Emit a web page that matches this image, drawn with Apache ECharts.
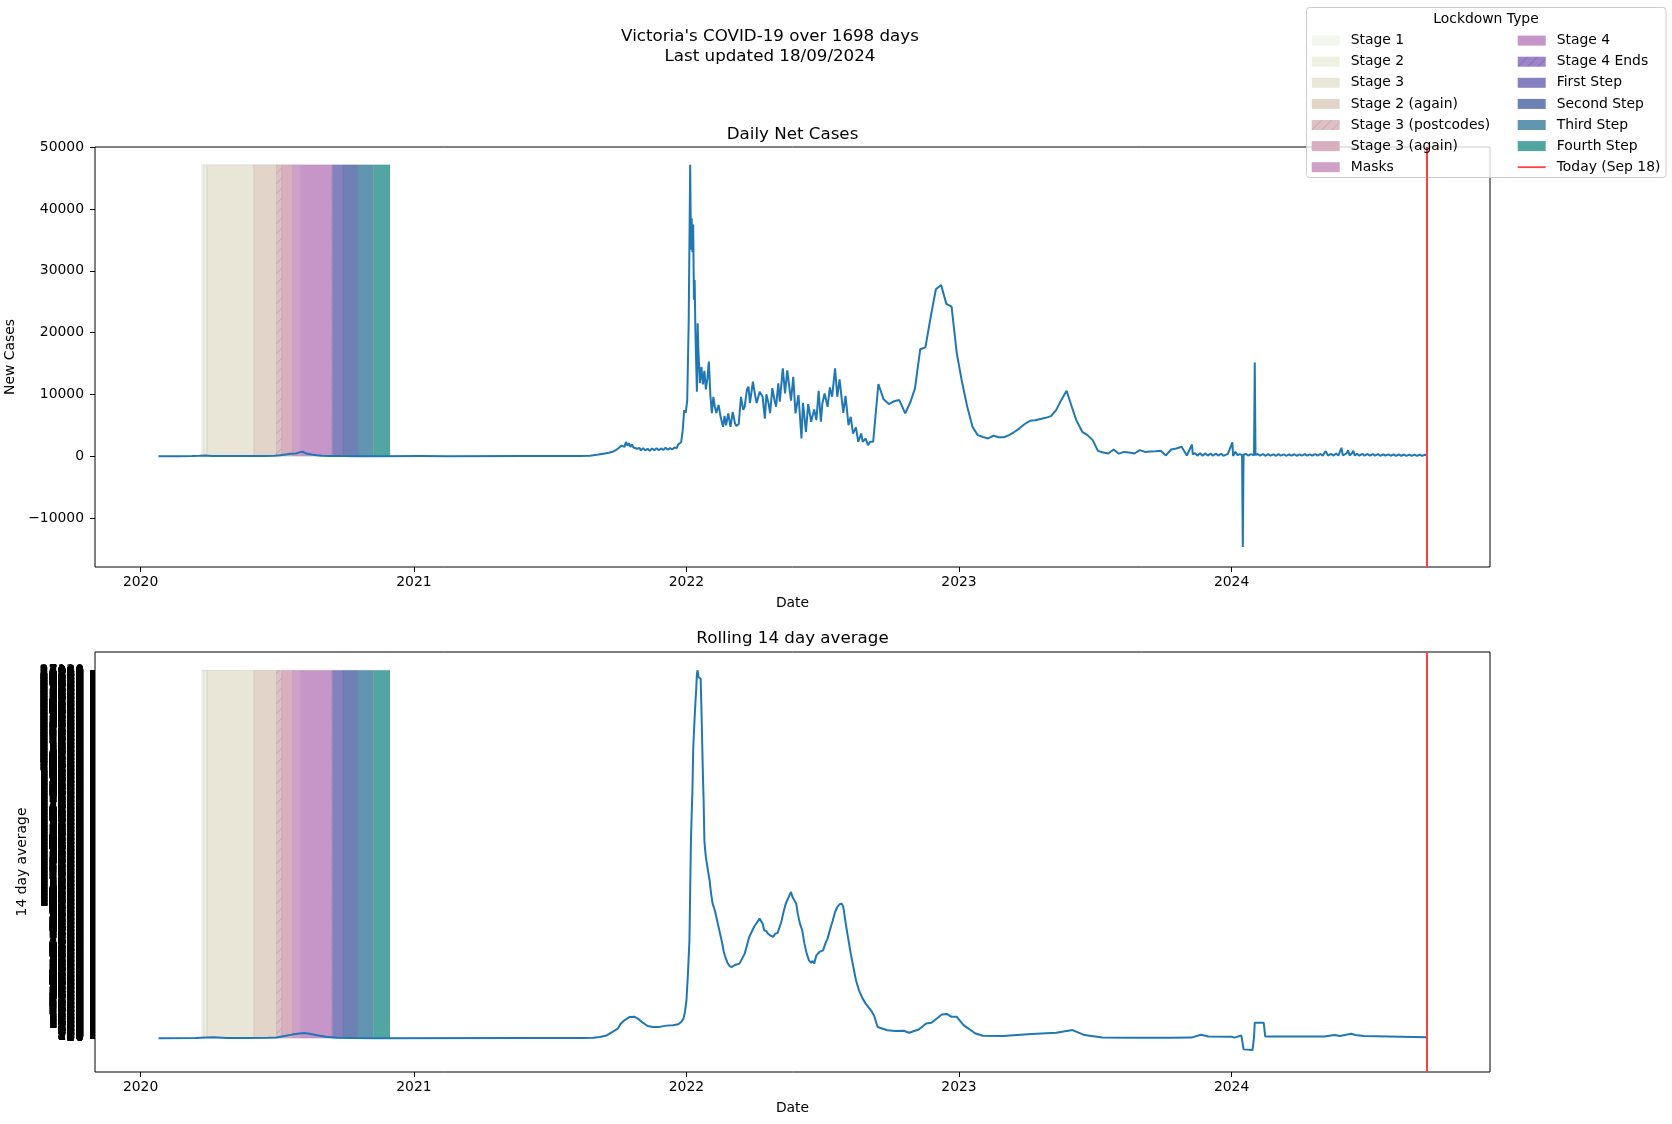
<!DOCTYPE html>
<html>
<head>
<meta charset="utf-8">
<script src="https://cdn.jsdelivr.net/npm/echarts@6/dist/echarts.min.js"></script>
<style>
html,body{margin:0;padding:0;background:#fff;}
#chart{width:1672px;height:1124px;}
</style>
</head>
<body>
<div id="chart"></div>
<script>
// ---------------- DATA ----------------
const yearTicks = ['2020-01-01','2021-01-01','2022-01-01','2023-01-01','2024-01-01'];
const yearLabels = ['2020','2021','2022','2023','2024'];
const dailyTickValues = [-10000,0,10000,20000,30000,40000,50000];
const dailyTickLabels = ['\u221210000','0','10000','20000','30000','40000','50000'];
const todayDate = '2024-09-18';

// Lockdown stages
const stageNames = ['Stage 1','Stage 2','Stage 3','Stage 2 (again)','Stage 3 (postcodes)','Stage 3 (again)','Masks',
  'Stage 4','Stage 4 Ends','First Step','Second Step','Third Step','Fourth Step'];
const stageStarts = ['2020-03-23','2020-03-26','2020-03-30','2020-06-01','2020-07-01','2020-07-08','2020-07-23',
  '2020-08-02','2020-09-13','2020-09-14','2020-09-28','2020-10-18','2020-11-08'];
const stageEnds = ['2020-03-26','2020-03-30','2020-06-01','2020-07-01','2020-07-08','2020-07-23','2020-08-02',
  '2020-09-13','2020-09-14','2020-09-28','2020-10-18','2020-11-08','2020-11-30'];

// Daily net cases [date, value]
const dailyNet = [
['2020-01-25',0],['2020-02-20',2],['2020-03-10',10],['2020-03-20',60],['2020-03-28',110],['2020-04-05',30],['2020-04-20',5],
['2020-05-05',15],['2020-05-25',5],['2020-06-15',20],['2020-06-28',60],['2020-07-06',150],['2020-07-13',260],['2020-07-20',370],
['2020-07-27',420],['2020-08-02',650],['2020-08-05',720],['2020-08-10',420],['2020-08-17',280],['2020-08-24',150],['2020-08-31',80],
['2020-09-10',40],['2020-09-25',15],['2020-10-15',2],['2020-11-15',0],['2021-01-10',5],['2021-02-15',3],['2021-05-30',10],
['2021-07-20',15],['2021-08-10',20],['2021-08-25',60],
['2021-09-05',250],['2021-09-12',400],['2021-09-19',550],['2021-09-24',700],['2021-09-29',1000],['2021-10-03',1400],['2021-10-06',1700],
['2021-10-08',1900],['2021-10-10',1500],['2021-10-12',2300],['2021-10-14',1700],['2021-10-16',2100],['2021-10-18',1500],['2021-10-20',1900],
['2021-10-22',1400],['2021-10-24',1700],['2021-10-27',1200],['2021-10-30',1350],['2021-11-01',900],['2021-11-04',1300],['2021-11-07',900],
['2021-11-10',1200],['2021-11-13',850],['2021-11-16',1250],['2021-11-19',950],['2021-11-22',1300],['2021-11-25',950],['2021-11-28',1250],
['2021-12-01',1000],['2021-12-04',1350],['2021-12-07',1050],['2021-12-10',1300],['2021-12-13',1100],['2021-12-16',1400],['2021-12-19',1300],
['2021-12-21',1900],['2021-12-23',1780],['2021-12-25',2300],['2021-12-27',4200],['2021-12-29',7450],['2021-12-31',7000],['2022-01-02',9000],
['2022-01-04',21770],['2022-01-05',21500],['2022-01-06',47160],['2022-01-07',33400],['2022-01-08',38500],['2022-01-09',33000],['2022-01-10',37500],
['2022-01-11',25300],['2022-01-12',28500],['2022-01-13',20000],['2022-01-15',10420],['2022-01-16',21500],['2022-01-17',17000],['2022-01-19',11800],
['2022-01-21',14470],['2022-01-23',11600],['2022-01-25',13800],['2022-01-27',10800],['2022-01-29',12500],['2022-01-31',15300],['2022-02-02',9900],
['2022-02-04',6970],['2022-02-06',9600],['2022-02-08',8000],['2022-02-10',7000],['2022-02-13',8270],['2022-02-16',6200],['2022-02-19',4750],
['2022-02-21',6500],['2022-02-23',5000],['2022-02-26',6900],['2022-03-01',4750],['2022-03-04',7150],['2022-03-07',5300],['2022-03-09',4900],
['2022-03-12',5200],['2022-03-15',9600],['2022-03-18',7500],['2022-03-20',8000],['2022-03-23',10800],['2022-03-25',11250],['2022-03-27',8600],
['2022-03-31',12040],['2022-04-03',9800],['2022-04-05',8600],['2022-04-09',10400],['2022-04-13',9600],['2022-04-16',6060],['2022-04-18',10000],
['2022-04-21',8500],['2022-04-23',6950],['2022-04-26',11000],['2022-04-29',9000],['2022-05-01',8000],['2022-05-04',11800],['2022-05-06',8800],
['2022-05-10',14200],['2022-05-13',10150],['2022-05-16',13900],['2022-05-21',9000],['2022-05-24',12850],['2022-05-27',6920],['2022-05-31',9900],
['2022-06-04',2870],['2022-06-06',8640],['2022-06-10',3940],['2022-06-13',8430],['2022-06-17',5560],['2022-06-21',7570],['2022-06-24',5830],
['2022-06-27',10590],['2022-06-30',5560],['2022-07-02',8530],['2022-07-05',10150],['2022-07-09',7990],['2022-07-12',11130],['2022-07-15',9610],
['2022-07-19',14210],['2022-07-22',9610],['2022-07-25',12430],['2022-07-30',7020],['2022-08-02',9770],['2022-08-06',5020],['2022-08-09',6370],
['2022-08-12',3670],['2022-08-16',4650],['2022-08-19',2320],['2022-08-23',3670],['2022-08-25',2320],['2022-08-29',2860],['2022-09-01',1780],
['2022-09-04',2320],['2022-09-08',2320],['2022-09-15',11670],['2022-09-22',9190],['2022-09-29',8430],['2022-10-06',8900],['2022-10-13',9080],
['2022-10-21',6920],['2022-10-28',8800],['2022-11-03',10970],['2022-11-10',17290],['2022-11-17',17610],['2022-11-24',22500],['2022-12-01',27000],
['2022-12-08',27700],['2022-12-15',24640],['2022-12-22',24200],['2022-12-29',16640],['2023-01-05',12000],['2023-01-12',7990],['2023-01-19',4750],
['2023-01-26',3400],['2023-02-02',3100],['2023-02-09',2870],['2023-02-16',3320],['2023-02-23',3050],['2023-03-02',3050],['2023-03-09',3400],
['2023-03-16',3900],['2023-03-23',4500],['2023-03-30',5200],['2023-04-06',5720],['2023-04-13',5800],['2023-04-20',6000],['2023-04-27',6200],
['2023-05-04',6480],['2023-05-11',7450],['2023-05-18',9100],['2023-05-25',10590],['2023-06-01',8000],['2023-06-07',5830],['2023-06-15',3940],
['2023-06-22',3400],['2023-06-29',2590],['2023-07-06',860],['2023-07-13',600],['2023-07-20',430],['2023-07-27',1080],['2023-08-03',400],
['2023-08-10',690],['2023-08-17',600],['2023-08-24',430],['2023-08-31',970],['2023-09-07',690],['2023-09-14',760],['2023-09-21',800],
['2023-09-28',860],['2023-10-05',110],['2023-10-12',1080],['2023-10-19',1250],['2023-10-26',1510],['2023-11-02',110],['2023-11-09',1890],
['2023-11-10',270],['2023-11-13',500],['2023-11-16',80],['2023-11-20',470],['2023-11-23',60],['2023-11-27',450],['2023-11-30',90],
['2023-12-04',420],['2023-12-07',60],['2023-12-11',430],['2023-12-14',80],['2023-12-18',390],['2023-12-21',50],['2023-12-27',360],
['2023-12-29',40],['2024-01-02',2220],['2024-01-03',30],['2024-01-06',700],['2024-01-09',160],['2024-01-12',330],['2024-01-15',150],
['2024-01-16',-14700],['2024-01-17',220],['2024-01-20',380],['2024-01-23',90],['2024-01-27',340],['2024-01-31',110],['2024-02-01',15150],
['2024-02-02',180],['2024-02-05',360],['2024-02-08',80],['2024-02-12',340],['2024-02-15',60],['2024-02-19',330],['2024-02-22',70],
['2024-02-26',300],['2024-02-29',60],['2024-03-04',320],['2024-03-07',70],['2024-03-11',290],['2024-03-14',60],['2024-03-18',300],
['2024-03-21',80],['2024-03-25',310],['2024-03-28',60],['2024-04-01',280],['2024-04-04',70],['2024-04-08',330],['2024-04-11',80],
['2024-04-15',300],['2024-04-18',70],['2024-04-22',340],['2024-04-25',80],['2024-04-29',350],['2024-05-02',90],['2024-05-06',810],
['2024-05-09',100],['2024-05-13',380],['2024-05-16',90],['2024-05-20',420],['2024-05-23',100],['2024-05-27',1350],['2024-05-29',120],
['2024-06-03',450],['2024-06-05',970],['2024-06-07',100],['2024-06-10',420],['2024-06-12',860],['2024-06-14',90],['2024-06-17',400],
['2024-06-20',80],['2024-06-24',380],['2024-06-27',70],['2024-07-01',350],['2024-07-04',80],['2024-07-08',340],['2024-07-11',70],
['2024-07-15',320],['2024-07-18',60],['2024-07-22',300],['2024-07-25',70],['2024-07-29',290],['2024-08-01',60],['2024-08-05',280],
['2024-08-08',50],['2024-08-12',270],['2024-08-15',60],['2024-08-19',260],['2024-08-22',50],['2024-08-26',250],['2024-08-29',50],
['2024-09-02',240],['2024-09-05',40],['2024-09-09',230],['2024-09-12',50],['2024-09-16',220],['2024-09-18',160]
];

// Rolling 14 day average [date, value]
const roll14 = [
['2020-01-25',0],['2020-03-15',10],['2020-03-28',50],['2020-04-08',60],['2020-04-25',15],['2020-05-20',10],['2020-06-20',20],
['2020-07-01',50],['2020-07-12',150],['2020-07-22',260],['2020-08-01',340],['2020-08-07',380],['2020-08-14',330],['2020-08-24',210],
['2020-09-05',100],['2020-09-20',35],['2020-10-10',8],['2020-11-10',0],['2021-06-01',5],['2021-08-15',15],['2021-08-29',30],
['2021-09-07',80],['2021-09-16',200],['2021-09-24',455],['2021-10-01',700],['2021-10-05',1070],['2021-10-10',1316],['2021-10-17',1562],
['2021-10-23',1580],['2021-10-28',1439],['2021-11-04',1120],['2021-11-10',898],['2021-11-17',824],['2021-11-26',830],['2021-12-05',923],
['2021-12-14',947],['2021-12-21',1021],['2021-12-25',1193],['2021-12-28',1439],['2021-12-30',1931],['2022-01-01',2792],['2022-01-03',4761],
['2022-01-05',7221],['2022-01-06',10912],['2022-01-07',14602],['2022-01-08',16500],['2022-01-09',18293],['2022-01-10',21245],['2022-01-11',22600],
['2022-01-12',23706],['2022-01-13',24800],['2022-01-14',25675],['2022-01-15',26905],['2022-01-16',27151],['2022-01-17',26659],['2022-01-18',26700],
['2022-01-20',26536],['2022-01-21',24444],['2022-01-22',21983],['2022-01-23',19522],['2022-01-24',17554],['2022-01-25',14602],['2022-01-26',13900],
['2022-01-27',13372],['2022-01-29',12633],['2022-02-01',11650],['2022-02-03',10666],['2022-02-05',9928],['2022-02-08',9435],['2022-02-10',8943],
['2022-02-13',8205],['2022-02-16',7467],['2022-02-18',6975],['2022-02-20',6360],['2022-02-22',5991],['2022-02-25',5548],['2022-02-28',5302],
['2022-03-03',5253],['2022-03-06',5376],['2022-03-08',5302],['2022-03-13',5499],['2022-03-15',5622],['2022-03-20',6237],['2022-03-26',7467],
['2022-04-02',8254],['2022-04-09',8820],['2022-04-11',8697],['2022-04-13',8451],['2022-04-15',7959],['2022-04-18',7910],['2022-04-20',7713],
['2022-04-23',7590],['2022-04-27',7467],['2022-04-30',7713],['2022-05-03',7762],['2022-05-08',8574],['2022-05-11',9312],['2022-05-14',9928],
['2022-05-18',10420],['2022-05-21',10789],['2022-05-23',10420],['2022-05-28',9928],['2022-05-30',9189],['2022-06-02',8451],['2022-06-05',7959],
['2022-06-08',6975],['2022-06-11',6237],['2022-06-14',5745],['2022-06-17',5548],['2022-06-19',5696],['2022-06-21',5499],['2022-06-24',6114],
['2022-06-28',6360],['2022-07-03',6483],['2022-07-06',6975],['2022-07-09',7344],['2022-07-12',7959],['2022-07-16',8697],['2022-07-19',9312],
['2022-07-22',9681],['2022-07-25',9878],['2022-07-28',9928],['2022-07-30',9681],['2022-08-03',8205],['2022-08-06',7221],['2022-08-09',6237],
['2022-08-12',5376],['2022-08-16',4269],['2022-08-20',3531],['2022-08-25',2916],['2022-08-29',2547],['2022-09-05',2054],['2022-09-09',1685],
['2022-09-14',824],['2022-09-27',578],['2022-10-08',528],['2022-10-19',541],['2022-10-26',393],['2022-11-08',637],['2022-11-18',1080],
['2022-11-25',1132],['2022-12-09',1744],['2022-12-16',1774],['2022-12-22',1574],['2022-12-29',1574],['2023-01-07',962],['2023-01-23',342],
['2023-02-02',172],['2023-03-01',150],['2023-04-08',297],['2023-05-11',393],['2023-06-02',593],['2023-06-18',224],['2023-07-12',40],
['2023-08-15',35],['2023-10-11',30],['2023-11-08',40],['2023-11-21',250],['2023-12-01',120],['2024-01-01',110],['2024-01-05',40],
['2024-01-14',200],['2024-01-16',120],['2024-01-17',-830],['2024-01-29',-880],['2024-01-31',60],['2024-02-01',1130],['2024-02-13',1130],
['2024-02-15',120],['2024-05-04',120],['2024-05-18',230],['2024-05-25',150],['2024-06-09',320],['2024-06-15',230],['2024-06-26',150],
['2024-09-18',70]
];

// ---------------- STYLE ----------------
const FONT = 'DejaVu Sans';
const stageColors = ['#f2f6ee','#eef1e2','#e9e6d7','#e3d4c9',null,'#d8afbe','#d0a1c8','#c696c9',null,'#8580bf','#6e81b5','#6196b0','#52a6a2'];
function parseDate(s){ const p = s.split('-'); return new Date(+p[0], +p[1]-1, +p[2]).getTime(); }
function hatch(base, line){
  const c = document.createElement('canvas'); c.width = 10; c.height = 10;
  const g = c.getContext('2d');
  g.fillStyle = base; g.fillRect(0,0,10,10);
  g.strokeStyle = line; g.lineWidth = 1;
  g.beginPath();
  g.moveTo(0,10); g.lineTo(10,0);
  g.moveTo(-5,5); g.lineTo(5,-5);
  g.moveTo(5,15); g.lineTo(15,5);
  g.stroke();
  return {image: c, repeat: 'repeat'};
}
stageColors[4] = hatch('#dcc0c3','#cca2a9');
stageColors[8] = hatch('#9c84c7','#7f66b6');

const yearTs = yearTicks.map(parseDate);
const dailyMax = Math.max(...dailyNet.map(d => d[1]));
const rollMax = Math.max(...roll14.map(d => d[1]));
// the reference prints one (overlapping, unreadable) tick label per level of the average
const rollTickStep = 20;
const rollTickValues = [];
for (let v = 0; v <= rollMax; v += rollTickStep) rollTickValues.push(v);

const xMin = parseDate('2019-11-01'), xMax = parseDate('2024-12-12');

function xAxisCfg(gi){
  return {
    type: 'value', gridIndex: gi, min: xMin, max: xMax, scale: true,
    name: 'Date', nameLocation: 'middle', nameGap: 29,
    nameTextStyle: {fontSize: 13.9, color: '#000', fontFamily: FONT},
    axisLine: {show: false, onZero: false},
    splitLine: {show: false},
    axisTick: {show: true, customValues: yearTs, length: 5, lineStyle: {color: '#000', width: 1}},
    axisLabel: {customValues: yearTs, margin: 8, fontSize: 13.9, color: '#000', fontFamily: FONT,
      formatter: function(v){ const i = yearTs.indexOf(v); return i >= 0 ? yearLabels[i] : ''; }}
  };
}

const series = [];
stageNames.forEach((name, i) => {
  [0,1].forEach(gi => {
    series.push({
      name: name, type: 'line', xAxisIndex: gi, yAxisIndex: gi, data: [],
      itemStyle: {color: stageColors[i]}, lineStyle: {color: stageColors[i]},
      silent: true,
      markArea: {
        silent: true,
        itemStyle: {color: stageColors[i], borderColor: 'rgba(0,0,0,0.07)', borderWidth: 1},
        data: [[{xAxis: parseDate(stageStarts[i]), yAxis: 0}, {xAxis: parseDate(stageEnds[i]), yAxis: gi === 0 ? dailyMax : rollMax}]]
      }
    });
  });
});
series.push({
  name: 'Daily Net Cases', type: 'line', xAxisIndex: 0, yAxisIndex: 0,
  data: dailyNet.map(d => [parseDate(d[0]), d[1]]),
  symbol: 'none', showSymbol: false, lineStyle: {color: '#1f77b4', width: 2}, itemStyle: {color: '#1f77b4'}, z: 3
});
series.push({
  name: 'Rolling 14 day average', type: 'line', xAxisIndex: 1, yAxisIndex: 1,
  data: roll14.map(d => [parseDate(d[0]), d[1]]),
  symbol: 'none', showSymbol: false, lineStyle: {color: '#1f77b4', width: 2}, itemStyle: {color: '#1f77b4'}, z: 3
});
[0,1].forEach(gi => {
  series.push({
    name: 'Today (Sep 18)', type: 'line', xAxisIndex: gi, yAxisIndex: gi, data: [],
    itemStyle: {color: '#ff4040'}, lineStyle: {color: '#ff4040', width: 2},
    markLine: {silent: true, symbol: 'none', label: {show: false},
      lineStyle: {color: '#ff4040', width: 2, type: 'solid'},
      data: [{xAxis: parseDate(todayDate)}]}
  });
});

const col1 = stageNames.slice(0,7).map(n => ({name: n, icon: 'rect'}));
const col2 = stageNames.slice(7).map(n => ({name: n, icon: 'rect'}));
col2.push({name: 'Today (Sep 18)', icon: 'path://M0,0L0,0M0,10L0,10M0,4.1L28,4.1L28,5.9L0,5.9Z'});
const legendText = {fontSize: 13.9, color: '#000', fontFamily: FONT, lineHeight: 14, padding: [0,0,0,6]};

const option = {
  animation: false,
  backgroundColor: '#fff',
  textStyle: {fontFamily: FONT},
  title: [
    {text: "Victoria's COVID-19 over 1698 days\nLast updated 18/09/2024", left: 770, top: 26, textAlign: 'center', padding: 0,
      textStyle: {fontSize: 16.7, lineHeight: 20.5, fontWeight: 'normal', color: '#000', fontFamily: FONT}},
    {text: 'Daily Net Cases', left: 792.5, top: 125, textAlign: 'center', padding: 0,
      textStyle: {fontSize: 16.7, lineHeight: 20, fontWeight: 'normal', color: '#000', fontFamily: FONT}},
    {text: 'Rolling 14 day average', left: 792.5, top: 629, textAlign: 'center', padding: 0,
      textStyle: {fontSize: 16.7, lineHeight: 20, fontWeight: 'normal', color: '#000', fontFamily: FONT}},
    {text: 'Lockdown Type', left: 1486, top: 12.3, textAlign: 'center', padding: 0, z: 8,
      textStyle: {fontSize: 13.9, lineHeight: 14, fontWeight: 'normal', color: '#000', fontFamily: FONT}}
  ],
  graphic: [{
    type: 'rect', z: 3, silent: true,
    shape: {x: 1306.5, y: 7.5, width: 359.5, height: 170, r: 3},
    style: {fill: 'rgba(255,255,255,0.8)', stroke: '#cccccc', lineWidth: 1}
  }],
  legend: [
    {orient: 'vertical', left: 1311.7, top: 33.6, itemWidth: 28, itemHeight: 10, itemGap: 7.1, padding: 0,
      selectedMode: false, data: col1, textStyle: legendText, z: 6},
    {orient: 'vertical', left: 1517.7, top: 33.6, itemWidth: 28, itemHeight: 10, itemGap: 7.1, padding: 0,
      selectedMode: false, data: col2, textStyle: legendText, z: 6}
  ],
  grid: [
    {left: 95, top: 147, width: 1395, height: 420, show: true, borderColor: '#000', borderWidth: 1,
      backgroundColor: 'transparent', containLabel: false, outerBoundsMode: 'none'},
    {left: 95, top: 652, width: 1395, height: 420, show: true, borderColor: '#000', borderWidth: 1,
      backgroundColor: 'transparent', containLabel: false, outerBoundsMode: 'none'}
  ],
  xAxis: [xAxisCfg(0), xAxisCfg(1)],
  yAxis: [
    {type: 'value', gridIndex: 0, min: -17940, max: 50030,
      name: 'New Cases', nameLocation: 'middle', nameGap: 74,
      nameTextStyle: {fontSize: 13.9, color: '#000', fontFamily: FONT},
      axisLine: {show: false, onZero: false}, splitLine: {show: false},
      axisTick: {show: true, customValues: dailyTickValues, length: 5, lineStyle: {color: '#000', width: 1}},
      axisLabel: {customValues: dailyTickValues, margin: 11, fontSize: 13.9, color: '#000', fontFamily: FONT,
        formatter: function(v){ const i = dailyTickValues.indexOf(v); return i >= 0 ? dailyTickLabels[i] : String(v); }}
    },
    {type: 'value', gridIndex: 1, min: -2500, max: 28500,
      name: '14 day average', nameLocation: 'middle', nameGap: 62,
      nameTextStyle: {fontSize: 13.9, color: '#000', fontFamily: FONT},
      axisLine: {show: false, onZero: false}, splitLine: {show: false},
      axisTick: {show: true, customValues: rollTickValues, length: 5, lineStyle: {color: '#000', width: 1}},
      axisLabel: {customValues: rollTickValues, margin: 11, fontSize: 13.9, color: '#000', fontFamily: FONT, hideOverlap: false,
        formatter: function(v){ return String(Math.round(v)); }}
    }
  ],
  series: series
};

const chart = echarts.init(document.getElementById('chart'), null, {renderer: 'canvas', width: 1672, height: 1124});
chart.setOption(option);
</script>
</body>
</html>
